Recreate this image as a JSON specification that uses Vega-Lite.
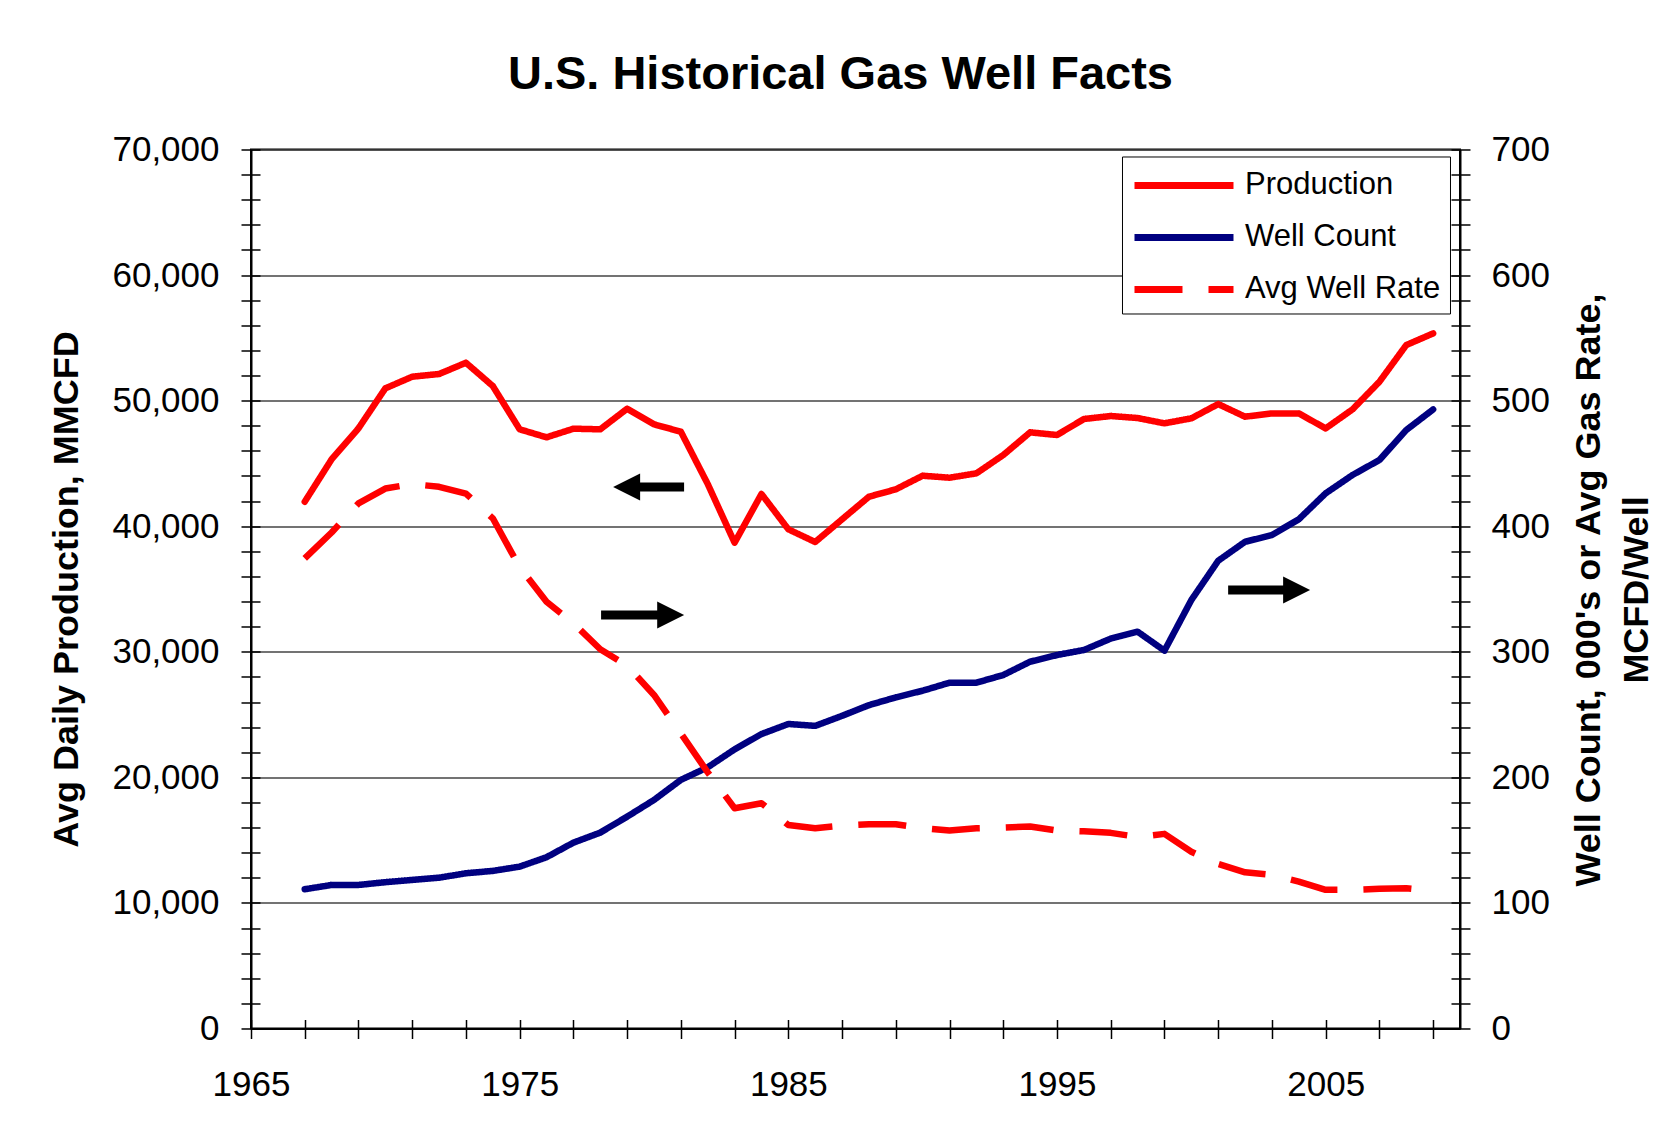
{
  "$schema": "https://vega.github.io/schema/vega-lite/v6.json",
  "width": 1209,
  "height": 879,
  "autosize": {"type": "none"},
  "padding": {"left": 251, "top": 149.5, "right": 201, "bottom": 103.4},
  "background": "white",
  "title": {
    "text": "U.S. Historical Gas Well Facts",
    "font": "Liberation Sans",
    "fontSize": 47,
    "fontWeight": "bold",
    "color": "black",
    "anchor": "middle",
    "dx": -15,
    "dy": 16,
    "baseline": "alphabetic",
    "offset": 12
  },
  "config": {
    "font": "Liberation Sans",
    "view": {"stroke": "black", "strokeWidth": 2},
    "axis": {
      "labelFont": "Liberation Sans",
      "labelFontSize": 35,
      "labelColor": "black",
      "titleFont": "Liberation Sans",
      "titleColor": "black",
      "domainColor": "black",
      "domainWidth": 2,
      "tickColor": "black",
      "tickWidth": 1.5,
      "tickSize": 10,
      "tickCount": 200,
      "labelOverlap": false,
      "labelFlush": false,
      "labelBound": false
    },
    "legend": {
      "orient": "none",
      "legendX": 871,
      "legendY": 7,
      "padding": 9,
      "strokeColor": "black",
      "fillColor": "white",
      "symbolType": "M-1,0L5,0",
      "symbolSize": 1089,
      "symbolStrokeWidth": 7,
      "labelFont": "Liberation Sans",
      "labelFontSize": 31,
      "labelColor": "black",
      "labelOffset": 74,
      "rowPadding": 17,
      "labelLimit": 400
    }
  },
  "datasets": {
    "gas": [
      {"year": 1967, "Production": 41950, "Well Count": 110.9, "Avg Well Rate": 374.4},
      {"year": 1968, "Production": 45325, "Well Count": 114.3, "Avg Well Rate": 395},
      {"year": 1969, "Production": 47794, "Well Count": 114.3, "Avg Well Rate": 418.2},
      {"year": 1970, "Production": 50980, "Well Count": 116.5, "Avg Well Rate": 430},
      {"year": 1971, "Production": 51905, "Well Count": 118.3, "Avg Well Rate": 433.6},
      {"year": 1972, "Production": 52120, "Well Count": 120.1, "Avg Well Rate": 431.4},
      {"year": 1973, "Production": 53018, "Well Count": 123.6, "Avg Well Rate": 426},
      {"year": 1974, "Production": 51163, "Well Count": 125.5, "Avg Well Rate": 406.3},
      {"year": 1975, "Production": 47717, "Well Count": 128.9, "Avg Well Rate": 367.3},
      {"year": 1976, "Production": 47080, "Well Count": 136.4, "Avg Well Rate": 339.9},
      {"year": 1977, "Production": 47765, "Well Count": 148, "Avg Well Rate": 322.7},
      {"year": 1978, "Production": 47717, "Well Count": 156, "Avg Well Rate": 302},
      {"year": 1979, "Production": 49357, "Well Count": 168.7, "Avg Well Rate": 289},
      {"year": 1980, "Production": 48115, "Well Count": 182, "Avg Well Rate": 265.6},
      {"year": 1981, "Production": 47525, "Well Count": 198, "Avg Well Rate": 235},
      {"year": 1982, "Production": 43360, "Well Count": 208, "Avg Well Rate": 204},
      {"year": 1983, "Production": 38687, "Well Count": 222.3, "Avg Well Rate": 175.4},
      {"year": 1984, "Production": 42565, "Well Count": 234.5, "Avg Well Rate": 179.4},
      {"year": 1985, "Production": 39754, "Well Count": 242.5, "Avg Well Rate": 162},
      {"year": 1986, "Production": 38742, "Well Count": 241, "Avg Well Rate": 159.5},
      {"year": 1987, "Production": 40549, "Well Count": 249, "Avg Well Rate": 161.5},
      {"year": 1988, "Production": 42349, "Well Count": 257.5, "Avg Well Rate": 162.6},
      {"year": 1989, "Production": 42938, "Well Count": 263.7, "Avg Well Rate": 162.6},
      {"year": 1990, "Production": 44020, "Well Count": 269, "Avg Well Rate": 159.5},
      {"year": 1991, "Production": 43861, "Well Count": 275.4, "Avg Well Rate": 157.6},
      {"year": 1992, "Production": 44211, "Well Count": 275.4, "Avg Well Rate": 159.5},
      {"year": 1993, "Production": 45668, "Well Count": 281.5, "Avg Well Rate": 160},
      {"year": 1994, "Production": 47475, "Well Count": 292.1, "Avg Well Rate": 160.8},
      {"year": 1995, "Production": 47262, "Well Count": 297.4, "Avg Well Rate": 157.6},
      {"year": 1996, "Production": 48536, "Well Count": 301.4, "Avg Well Rate": 157},
      {"year": 1997, "Production": 48775, "Well Count": 310.5, "Avg Well Rate": 155.8},
      {"year": 1998, "Production": 48615, "Well Count": 316, "Avg Well Rate": 152.5},
      {"year": 1999, "Production": 48192, "Well Count": 300.9, "Avg Well Rate": 155},
      {"year": 2000, "Production": 48590, "Well Count": 341.2, "Avg Well Rate": 140.8},
      {"year": 2001, "Production": 49728, "Well Count": 372.5, "Avg Well Rate": 131},
      {"year": 2002, "Production": 48720, "Well Count": 387.6, "Avg Well Rate": 124.4},
      {"year": 2003, "Production": 48985, "Well Count": 393, "Avg Well Rate": 122.3},
      {"year": 2004, "Production": 48985, "Well Count": 405.5, "Avg Well Rate": 117},
      {"year": 2005, "Production": 47791, "Well Count": 426.2, "Avg Well Rate": 110.4},
      {"year": 2006, "Production": 49304, "Well Count": 440.8, "Avg Well Rate": 110.4},
      {"year": 2007, "Production": 51502, "Well Count": 452.7, "Avg Well Rate": 111.2},
      {"year": 2008, "Production": 54426, "Well Count": 476.6, "Avg Well Rate": 111.7},
      {"year": 2009, "Production": 55355, "Well Count": 493, "Avg Well Rate": 109.6}
    ],
    "arrows": [
      {"start": 1981.12, "end": 1979.0, "head": 1978.98, "level": 43120, "dir": "left"},
      {"start": 1978.03, "end": 1980.62, "head": 1980.62, "level": 32930, "dir": "right"},
      {"start": 2001.37, "end": 2003.92, "head": 2003.92, "level": 34920, "dir": "right"}
    ]
  },
  "resolve": {"scale": {"y": "independent"}, "axis": {"x": "independent", "y": "independent"}},
  "layer": [
    {
      "layer": [
        {
          "data": {"name": "gas"},
          "transform": [
            {"fold": ["Production", "Well Count", "Avg Well Rate"], "as": ["series", "value"]},
            {"filter": "datum.series === 'Production'"}
          ],
          "mark": {"type": "line", "strokeWidth": 6.5, "strokeCap": "round", "strokeJoin": "round"},
          "encoding": {
            "x": {
              "field": "year",
              "type": "quantitative",
              "scale": {"domain": [1965, 2010], "nice": false, "zero": false},
              "axis": {
                "orient": "bottom",
                "title": null,
                "grid": false,
                "values": [1965, 1967, 1969, 1971, 1973, 1975, 1977, 1979, 1981, 1983, 1985, 1987, 1989, 1991, 1993, 1995, 1997, 1999, 2001, 2003, 2005, 2007, 2009],
                "labelExpr": "(datum.value - 1965) % 10 === 0 ? '' + datum.value : ''",
                "labelPadding": 29
              }
            },
            "y": {
              "field": "value",
              "type": "quantitative",
              "scale": {"domain": [0, 70000], "nice": false, "zero": true},
              "axis": {
                "orient": "left",
                "title": "Avg Daily Production, MMCFD",
                "titleFontSize": 36,
                "titleFontWeight": "bold",
                "titleAngle": 270,
                "titleAlign": "center",
                "titleBaseline": "middle",
                "titleX": -185,
                "titleY": 439.5,
                "values": [0, 2000, 4000, 6000, 8000, 10000, 12000, 14000, 16000, 18000, 20000, 22000, 24000, 26000, 28000, 30000, 32000, 34000, 36000, 38000, 40000, 42000, 44000, 46000, 48000, 50000, 52000, 54000, 56000, 58000, 60000, 62000, 64000, 66000, 68000, 70000],
                "labelExpr": "datum.value % 10000 === 0 ? format(datum.value, ',') : ''",
                "labelPadding": 22,
                "grid": true,
                "gridColor": "#444444",
                "gridWidth": 1.4,
                "gridOpacity": {"condition": {"test": "datum.value % 10000 === 0", "value": 1}, "value": 0}
              }
            },
            "color": {
              "field": "series",
              "type": "nominal",
              "scale": {"domain": ["Production", "Well Count", "Avg Well Rate"], "range": ["#ff0000", "#000080", "#ff0000"]},
              "legend": {"title": null}
            },
            "strokeDash": {
              "field": "series",
              "type": "nominal",
              "scale": {"domain": ["Production", "Well Count", "Avg Well Rate"], "range": [[1, 0], [1, 0], [48, 26]]},
              "legend": {"title": null}
            }
          }
        },
        {
          "data": {"name": "arrows"},
          "mark": {"type": "rule", "strokeWidth": 9, "color": "black", "strokeCap": "butt"},
          "encoding": {
            "x": {"field": "start", "type": "quantitative", "scale": {"domain": [1965, 2010], "nice": false, "zero": false}},
            "x2": {"field": "end"},
            "y": {"field": "level", "type": "quantitative", "scale": {"domain": [0, 70000], "nice": false, "zero": true}}
          }
        },
        {
          "data": {"name": "arrows"},
          "mark": {"type": "point", "filled": true, "color": "black", "opacity": 1, "size": 729, "strokeWidth": 0},
          "encoding": {
            "x": {"field": "head", "type": "quantitative", "scale": {"domain": [1965, 2010], "nice": false, "zero": false}},
            "y": {"field": "level", "type": "quantitative", "scale": {"domain": [0, 70000], "nice": false, "zero": true}},
            "shape": {
              "field": "dir",
              "type": "nominal",
              "scale": {"domain": ["left", "right"], "range": ["M-1,0L1,-1L1,1Z", "M1,0L-1,-1L-1,1Z"]},
              "legend": null
            }
          }
        }
      ]
    },
    {
      "layer": [
        {
          "data": {"name": "gas"},
          "transform": [
            {"fold": ["Production", "Well Count", "Avg Well Rate"], "as": ["series", "value"]},
            {"filter": "datum.series === 'Well Count'"}
          ],
          "mark": {"type": "line", "strokeWidth": 6.5, "strokeCap": "round", "strokeJoin": "round"},
          "encoding": {
            "x": {"field": "year", "type": "quantitative", "scale": {"domain": [1965, 2010], "nice": false, "zero": false}, "axis": null},
            "y": {
              "field": "value",
              "type": "quantitative",
              "scale": {"domain": [0, 700], "nice": false, "zero": true},
              "axis": {
                "orient": "right",
                "title": ["Well Count, 000's or Avg Gas Rate,", "MCFD/Well"],
                "titleFontSize": 36,
                "titleFontWeight": "bold",
                "titleAngle": 270,
                "titleAlign": "center",
                "titleBaseline": "middle",
                "titleLineHeight": 48,
                "titleX": 129,
                "titleY": 440,
                "values": [0, 20, 40, 60, 80, 100, 120, 140, 160, 180, 200, 220, 240, 260, 280, 300, 320, 340, 360, 380, 400, 420, 440, 460, 480, 500, 520, 540, 560, 580, 600, 620, 640, 660, 680, 700],
                "labelExpr": "datum.value % 100 === 0 ? '' + datum.value : ''",
                "labelPadding": 21,
                "grid": false
              }
            },
            "color": {"field": "series", "type": "nominal", "scale": {"domain": ["Production", "Well Count", "Avg Well Rate"], "range": ["#ff0000", "#000080", "#ff0000"]}, "legend": {"title": null}},
            "strokeDash": {"field": "series", "type": "nominal", "scale": {"domain": ["Production", "Well Count", "Avg Well Rate"], "range": [[1, 0], [1, 0], [48, 26]]}, "legend": {"title": null}}
          }
        },
        {
          "data": {"name": "gas"},
          "transform": [
            {"fold": ["Production", "Well Count", "Avg Well Rate"], "as": ["series", "value"]},
            {"filter": "datum.series === 'Avg Well Rate'"}
          ],
          "mark": {"type": "line", "strokeWidth": 6.5, "strokeCap": "butt", "strokeJoin": "round"},
          "encoding": {
            "x": {"field": "year", "type": "quantitative", "scale": {"domain": [1965, 2010], "nice": false, "zero": false}},
            "y": {"field": "value", "type": "quantitative", "scale": {"domain": [0, 700], "nice": false, "zero": true}},
            "color": {"field": "series", "type": "nominal", "scale": {"domain": ["Production", "Well Count", "Avg Well Rate"], "range": ["#ff0000", "#000080", "#ff0000"]}, "legend": {"title": null}},
            "strokeDash": {"field": "series", "type": "nominal", "scale": {"domain": ["Production", "Well Count", "Avg Well Rate"], "range": [[1, 0], [1, 0], [48, 26]]}, "legend": {"title": null}}
          }
        }
      ]
    },
    {
      "data": {"name": "arrows"},
      "mark": {"type": "point", "opacity": 0},
      "encoding": {
        "x": {
          "field": "head",
          "type": "quantitative",
          "scale": {"domain": [1965, 2010], "nice": false, "zero": false},
          "axis": {
            "orient": "bottom",
            "title": null,
            "grid": false,
            "domain": false,
            "labels": false,
            "tickSize": -9,
            "values": [1965, 1967, 1969, 1971, 1973, 1975, 1977, 1979, 1981, 1983, 1985, 1987, 1989, 1991, 1993, 1995, 1997, 1999, 2001, 2003, 2005, 2007, 2009]
          }
        },
        "y": {
          "field": "level",
          "type": "quantitative",
          "scale": {"domain": [0, 70000], "nice": false, "zero": true},
          "axis": {
            "orient": "left",
            "title": null,
            "grid": false,
            "domain": false,
            "labels": false,
            "tickSize": -9,
            "values": [0, 2000, 4000, 6000, 8000, 10000, 12000, 14000, 16000, 18000, 20000, 22000, 24000, 26000, 28000, 30000, 32000, 34000, 36000, 38000, 40000, 42000, 44000, 46000, 48000, 50000, 52000, 54000, 56000, 58000, 60000, 62000, 64000, 66000, 68000, 70000]
          }
        }
      }
    },
    {
      "data": {"name": "arrows"},
      "mark": {"type": "point", "opacity": 0},
      "encoding": {
        "x": {"field": "head", "type": "quantitative", "scale": {"domain": [1965, 2010], "nice": false, "zero": false}, "axis": null},
        "y": {
          "field": "level",
          "type": "quantitative",
          "scale": {"domain": [0, 70000], "nice": false, "zero": true},
          "axis": {
            "orient": "right",
            "title": null,
            "grid": false,
            "domain": false,
            "labels": false,
            "tickSize": -9,
            "values": [0, 2000, 4000, 6000, 8000, 10000, 12000, 14000, 16000, 18000, 20000, 22000, 24000, 26000, 28000, 30000, 32000, 34000, 36000, 38000, 40000, 42000, 44000, 46000, 48000, 50000, 52000, 54000, 56000, 58000, 60000, 62000, 64000, 66000, 68000, 70000]
          }
        }
      }
    }
  ]
}
